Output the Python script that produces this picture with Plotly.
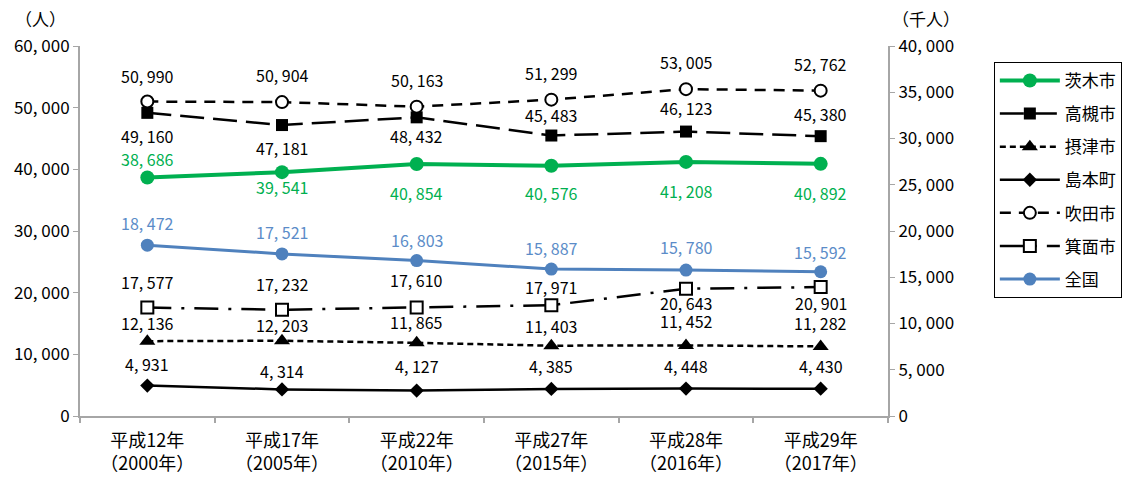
import plotly.graph_objects as go

# Categories (Japanese era year / Western year)
years = ["平成12年<br>（2000年）", "平成17年<br>（2005年）", "平成22年<br>（2010年）",
         "平成27年<br>（2015年）", "平成28年<br>（2016年）", "平成29年<br>（2017年）"]

# Population series (人) on the left axis
ibaraki = [38686, 39541, 40854, 40576, 41208, 40892]
takatsuki = [49160, 47181, 48432, 45483, 46123, 45380]
settsu = [12136, 12203, 11865, 11403, 11452, 11282]
shimamoto = [4931, 4314, 4127, 4385, 4448, 4430]
suita = [50990, 50904, 50163, 51299, 53005, 52762]
minoh = [17577, 17232, 17610, 17971, 20643, 20901]
# National series (千人) on the right axis
zenkoku = [18472, 17521, 16803, 15887, 15780, 15592]

left_ticks = [0, 10000, 20000, 30000, 40000, 50000, 60000]
right_ticks = [0, 5000, 10000, 15000, 20000, 25000, 30000, 35000, 40000]

FONT = "Noto Sans CJK JP"
GREEN = "#00B050"
BLUE = "#4F81BD"
LABEL_BLUE = "#5B8CC8"
AXIS = "#A6A6A6"


def fmt(v):
    return f"{v:,}".replace(",", ", ")


fig = go.Figure()

specs = [
    # name, values, axis, color, width, dash, symbol, msize, mfill
    ("茨木市", ibaraki, "y", GREEN, 4, "solid", "circle", 14, GREEN),
    ("高槻市", takatsuki, "y", "black", 2.5, "24px,9px", "square", 12, "black"),
    ("摂津市", settsu, "y", "black", 2.5, "6px,4px", "triangle-up", 14, "black"),
    ("島本町", shimamoto, "y", "black", 2.5, "solid", "diamond", 11, "black"),
    ("吹田市", suita, "y", "black", 2.5, "11px,8px", "circle", 12, "white"),
    ("箕面市", minoh, "y", "black", 2.5, "24px,10px,3px,10px", "square", 12, "white"),
    ("全国", zenkoku, "y2", BLUE, 3, "solid", "circle", 13, BLUE),
]

for i, (name, vals, ax, col, w, dash, sym, ms, fill) in enumerate(specs):
    fig.add_trace(go.Scatter(
        x=years, y=vals, name=name, yaxis=ax, mode="lines+markers",
        line=dict(color=col, width=w, dash=dash),
        marker=dict(symbol=sym, size=ms, color=fill,
                    line=dict(color=col, width=2 if fill == "white" else 0)),
        legendgroup=f"g{i}", cliponaxis=False,
    ))

# Vertical offsets (px) of the value labels relative to their markers
label_shift = {
    "茨木市": [18, -15, -29, -27, -29, -29],
    "高槻市": [-23, -23, -19, 21, 24, 22],
    "摂津市": [18, 16, 21, 20, 24, 23],
    "島本町": [22, 18, 25, 23, 23, 23],
    "吹田市": [26, 27, 27, 27, 27, 27],
    "箕面市": [26, 26, 27, 18, -14, -16],
    "全国": [22, 22, 21, 21, 23, 20],
}
label_color = {"茨木市": GREEN, "全国": LABEL_BLUE}

annotations = []
for name, vals, ax, *_ in specs:
    for x, v, s in zip(years, vals, label_shift[name]):
        annotations.append(dict(
            x=x, y=v, xref="x", yref=ax, text=fmt(v), showarrow=False,
            yshift=s, font=dict(family=FONT, size=16,
                                color=label_color.get(name, "black")),
        ))

# Axis unit captions
annotations.append(dict(x=0, y=1, xref="paper", yref="paper", text="（人）",
                        showarrow=False, xanchor="center", yanchor="middle",
                        xshift=-40, yshift=28,
                        font=dict(family=FONT, size=17, color="black")))
annotations.append(dict(x=1, y=1, xref="paper", yref="paper", text="（千人）",
                        showarrow=False, xanchor="center", yanchor="middle",
                        xshift=38, yshift=28,
                        font=dict(family=FONT, size=17, color="black")))

fig.update_layout(
    width=1139, height=480,
    margin=dict(l=80, r=251, t=46, b=64),
    paper_bgcolor="white", plot_bgcolor="white",
    font=dict(family=FONT, size=16, color="black"),
    showlegend=True,
    legend=dict(x=1.131, y=0.957, xanchor="left", yanchor="top",
                bordercolor="black", borderwidth=1, bgcolor="white",
                font=dict(family=FONT, size=17), tracegroupgap=8,
                traceorder="grouped", itemwidth=60),
    annotations=annotations,
    xaxis=dict(type="category", range=[-0.5, 5.5], showline=True,
               linecolor=AXIS, linewidth=2, ticks="outside", ticklen=5,
               tickcolor=AXIS, tickwidth=2, tickson="boundaries",
               showgrid=False, tickfont=dict(size=18), ticklabelstandoff=7,
               automargin=False),
    yaxis=dict(range=[0, 60000], tickvals=left_ticks,
               ticktext=[fmt(v) for v in left_ticks], showline=True,
               linecolor=AXIS, linewidth=2, ticks="outside", ticklen=5,
               tickcolor=AXIS, tickwidth=1, showgrid=False, zeroline=False,
               tickfont=dict(size=17), automargin=False),
    yaxis2=dict(range=[0, 40000], tickvals=right_ticks,
                ticktext=[fmt(v) for v in right_ticks], overlaying="y",
                side="right", showline=True, linecolor=AXIS, linewidth=2,
                ticks="outside", ticklen=5, tickcolor=AXIS, tickwidth=1,
                showgrid=False, zeroline=False, tickfont=dict(size=17),
                automargin=False),
)

fig.write_html("out.html")
